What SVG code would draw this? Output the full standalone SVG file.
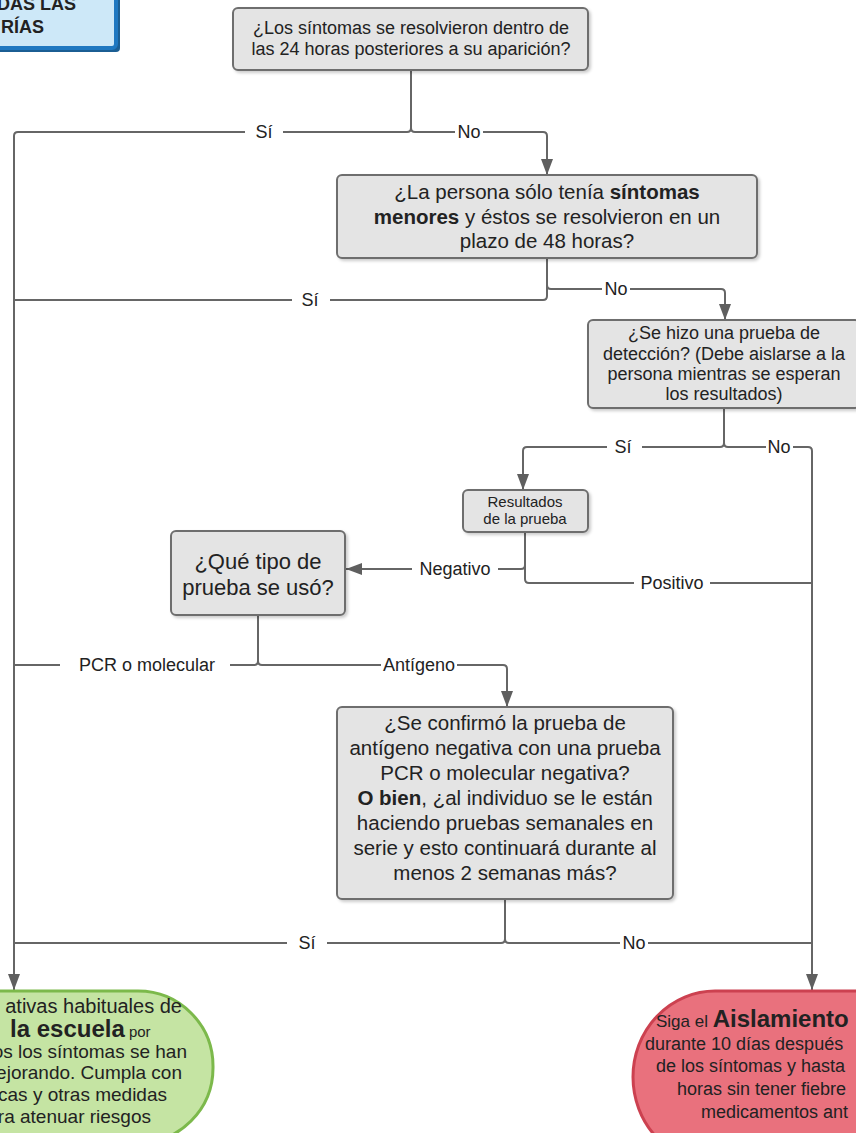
<svg xmlns="http://www.w3.org/2000/svg" width="856" height="1133" viewBox="0 0 856 1133">
<style>
text{font-family:"Liberation Sans",Arial,sans-serif;fill:#222}
.box{fill:#e4e4e4;stroke:#6e6e6e;stroke-width:2;filter:url(#sh)}
.ln{fill:none;stroke:#666;stroke-width:2}
.arr{fill:none;stroke:#666;stroke-width:2;marker-end:url(#ah)}
.bg{fill:#fff}
.lb{font-size:18px;text-anchor:middle}
.c{text-anchor:middle}
.b{font-weight:bold}
</style>
<defs>
<filter id="sh" x="-10%" y="-10%" width="130%" height="130%">
<feDropShadow dx="2" dy="2" stdDeviation="1.5" flood-color="#000" flood-opacity="0.2"/>
</filter>
<marker id="ah" markerWidth="16" markerHeight="12" refX="16" refY="6" orient="auto" markerUnits="userSpaceOnUse">
<path d="M0,0 L16,6 L0,12 z" fill="#5f5f5f"/>
</marker>
</defs>
<rect width="856" height="1133" fill="#fff"/>

<g id="title">
<rect x="-10" y="-10" width="130" height="62" rx="4" fill="#1b5e93"/>
<rect x="-10" y="-10" width="126" height="58" rx="4" fill="#cde8f8" stroke="#1f78c1" stroke-width="4"/>
<text x="-3" y="10" font-size="18" class="b">DAS LAS</text>
<text x="1" y="33" font-size="18" class="b">RÍAS</text>
</g>

<g id="connectors">
<path class="arr" d="M411,70 V128 Q411,132 407,132 H18 Q14,132 14,136 V990"/>
<path class="arr" d="M411,128 Q411,132 415,132 H543 Q547,132 547,136 V175"/>
<path class="ln" d="M547,258 V296 Q547,300 543,300 H14"/>
<path class="arr" d="M547,285 Q547,289 551,289 H721 Q725,289 725,293 V320"/>
<path class="arr" d="M724,408 V443 Q724,447 720,447 H527 Q523,447 523,451 V490"/>
<path class="arr" d="M724,443 Q724,447 728,447 H808 Q812,447 812,451 V990"/>
<path class="arr" d="M525,532 V565 Q525,569 521,569 H346"/>
<path class="ln" d="M525,565 V579 Q525,583 529,583 H812"/>
<path class="ln" d="M258,615 V661 Q258,665 254,665 H14"/>
<path class="arr" d="M258,661 Q258,665 262,665 H503 Q507,665 507,669 V707"/>
<path class="ln" d="M505,899 V939 Q505,943 501,943 H14"/>
<path class="ln" d="M505,939 Q505,943 509,943 H812"/>
<rect class="bg" x="245" y="122" width="38" height="20"/>
<text class="lb" x="264" y="138">Sí</text>
<rect class="bg" x="455" y="122" width="28" height="20"/>
<text class="lb" x="469" y="138">No</text>
<rect class="bg" x="292" y="290" width="38" height="20"/>
<text class="lb" x="310" y="306">Sí</text>
<rect class="bg" x="602" y="279" width="28" height="20"/>
<text class="lb" x="616" y="295">No</text>
<rect class="bg" x="607" y="437" width="35" height="20"/>
<text class="lb" x="623" y="453">Sí</text>
<rect class="bg" x="766" y="437" width="27" height="20"/>
<text class="lb" x="779" y="453">No</text>
<rect class="bg" x="412" y="559" width="86" height="20"/>
<text class="lb" x="455" y="575">Negativo</text>
<rect class="bg" x="634" y="573" width="76" height="20"/>
<text class="lb" x="672" y="589">Positivo</text>
<rect class="bg" x="60" y="655" width="170" height="20"/>
<text class="lb" x="147" y="671">PCR o molecular</text>
<rect class="bg" x="381" y="655" width="76" height="20"/>
<text class="lb" x="419" y="671">Antígeno</text>
<rect class="bg" x="287" y="933" width="40" height="20"/>
<text class="lb" x="307" y="949">Sí</text>
<rect class="bg" x="620" y="933" width="28" height="20"/>
<text class="lb" x="634" y="949">No</text>
</g>

<g id="q1">
<rect class="box" x="233" y="8" width="355" height="62" rx="5"/>
<text class="c" x="411" y="34" font-size="18">¿Los síntomas se resolvieron dentro de</text>
<text class="c" x="411" y="55" font-size="18">las 24 horas posteriores a su aparición?</text>
</g>

<g id="q2">
<rect class="box" x="337" y="175" width="420" height="83" rx="5"/>
<text class="c" x="547" y="199" font-size="20.5">¿La persona sólo tenía <tspan class="b">síntomas</tspan></text>
<text class="c" x="547" y="224" font-size="20.5"><tspan class="b">menores</tspan> y éstos se resolvieron en un</text>
<text class="c" x="547" y="248" font-size="20.5">plazo de 48 horas?</text>
</g>

<g id="q3">
<rect class="box" x="588" y="320" width="272" height="88" rx="5"/>
<text class="c" x="724" y="339" font-size="18">¿Se hizo una prueba de</text>
<text class="c" x="724" y="359.5" font-size="18">detección? (Debe aislarse a la</text>
<text class="c" x="724" y="380" font-size="18">persona mientras se esperan</text>
<text class="c" x="724" y="400" font-size="18">los resultados)</text>
</g>

<g id="results">
<rect class="box" x="463" y="490" width="125" height="42" rx="5"/>
<text class="c" x="525" y="507" font-size="15">Resultados</text>
<text class="c" x="525" y="524" font-size="15">de la prueba</text>
</g>

<g id="q4">
<rect class="box" x="171" y="531" width="174" height="84" rx="5"/>
<text class="c" x="258" y="569" font-size="22">¿Qué tipo de</text>
<text class="c" x="258" y="595" font-size="22">prueba se usó?</text>
</g>

<g id="q5">
<rect class="box" x="337" y="707" width="336" height="192" rx="5"/>
<text class="c" x="505" y="730" font-size="20.5">¿Se confirmó la prueba de</text>
<text class="c" x="505" y="755" font-size="20.5">antígeno negativa con una prueba</text>
<text class="c" x="505" y="780" font-size="20.5">PCR o molecular negativa?</text>
<text class="c" x="505" y="805" font-size="20.5"><tspan class="b">O bien</tspan>, ¿al individuo se le están</text>
<text class="c" x="505" y="830" font-size="20.5">haciendo pruebas semanales en</text>
<text class="c" x="505" y="855" font-size="20.5">serie y esto continuará durante al</text>
<text class="c" x="505" y="880" font-size="20.5">menos 2 semanas más?</text>
</g>

<g id="school">
<rect x="-200" y="991" width="413" height="152" rx="75" ry="75" fill="#c5e4a3" stroke="#7cb94b" stroke-width="3"/>
<text x="182" y="1013" font-size="20" text-anchor="end">ativas habituales de</text>
<text x="10" y="1037" font-size="24" class="b">la escuela<tspan font-size="15" font-weight="normal"> por</tspan></text>
<text x="187" y="1058" font-size="19" text-anchor="end">os los síntomas se han</text>
<text x="182" y="1079" font-size="19" text-anchor="end">ejorando. Cumpla con</text>
<text x="167" y="1101" font-size="19" text-anchor="end">cas y otras medidas</text>
<text x="151" y="1123" font-size="19" text-anchor="end">ra atenuar riesgos</text>
</g>

<g id="isolation">
<rect x="633" y="991" width="400" height="172" rx="82" ry="86" fill="#e9717d" stroke="#cc4150" stroke-width="3"/>
<text x="656" y="1027" font-size="17">Siga el <tspan font-size="24" class="b">Aislamiento</tspan></text>
<text x="645" y="1050" font-size="18">durante 10 días después</text>
<text x="656" y="1072" font-size="18">de los síntomas y hasta</text>
<text x="677" y="1095" font-size="18">horas sin tener fiebre</text>
<text x="701" y="1118" font-size="18">medicamentos ant</text>
</g>
</svg>
